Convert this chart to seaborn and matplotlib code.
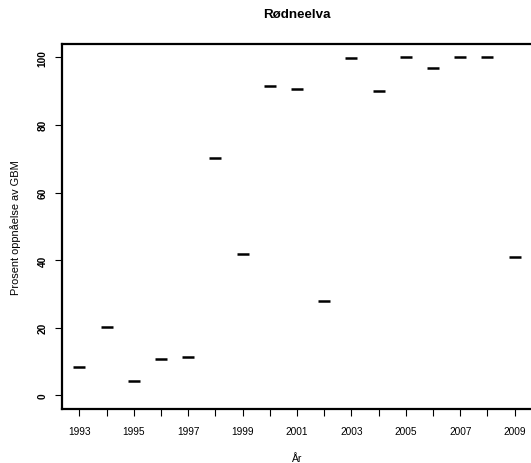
import numpy as np
import pandas as pd
import matplotlib
matplotlib.use("Agg")
import matplotlib.pyplot as plt
import seaborn as sns

years = [1993, 1994, 1995, 1996, 1997, 1998, 1999, 2000, 2001,
         2002, 2003, 2004, 2005, 2006, 2007, 2008, 2009]
prosent = [8.3, 20.2, 4.4, 10.9, 11.3, 70.1, 41.7, 91.4, 90.5,
           27.9, 99.9, 90.0, 100.0, 96.9, 100.0, 100.0, 40.8]
y_ticks = [0, 20, 40, 60, 80, 100]

df = pd.DataFrame({"Aar": years, "Prosent": prosent})

sns.set_style("ticks")
plt.rcParams['font.family'] = ['Liberation Sans', 'DejaVu Sans']
plt.rcParams['text.color'] = 'black'
plt.rcParams['axes.labelcolor'] = 'black'
plt.rcParams['xtick.color'] = 'black'
plt.rcParams['ytick.color'] = 'black'

fig = plt.figure(figsize=(5.31, 4.64), dpi=100)
ax = fig.add_axes([0.1168, 0.1164, 0.8851, 0.7873])

sns.scatterplot(data=df, x="Aar", y="Prosent", marker="_", s=80,
                color="black", linewidth=1.8, ax=ax, legend=False)

ax.set_xlim(1992.36, 2009.64)
ax.set_ylim(-4, 104)
ax.set_xticks(years)
ax.set_xticklabels([str(y) if y % 2 == 1 else "" for y in years], fontsize=7.3)
ax.set_yticks(y_ticks)
ax.set_yticklabels([str(v) for v in y_ticks], fontsize=7.3, rotation=90,
                   va="center", fontweight="bold")
ax.tick_params(axis="both", direction="out", length=5, width=0.8)
ax.tick_params(axis="x", pad=7.5)
ax.tick_params(axis="y", pad=5.5)
for sp in ax.spines.values():
    sp.set_visible(True)
    sp.set_linewidth(1.6)
    sp.set_color("black")

ax.set_xlabel("År", fontsize=7.5, labelpad=12)
ax.set_ylabel("Prosent oppnåelse av GBM", fontsize=7.9, labelpad=12)
ax.set_title("Rødneelva", fontsize=9.6, fontweight="bold", pad=19)

fig.savefig("out.png", dpi=100)
